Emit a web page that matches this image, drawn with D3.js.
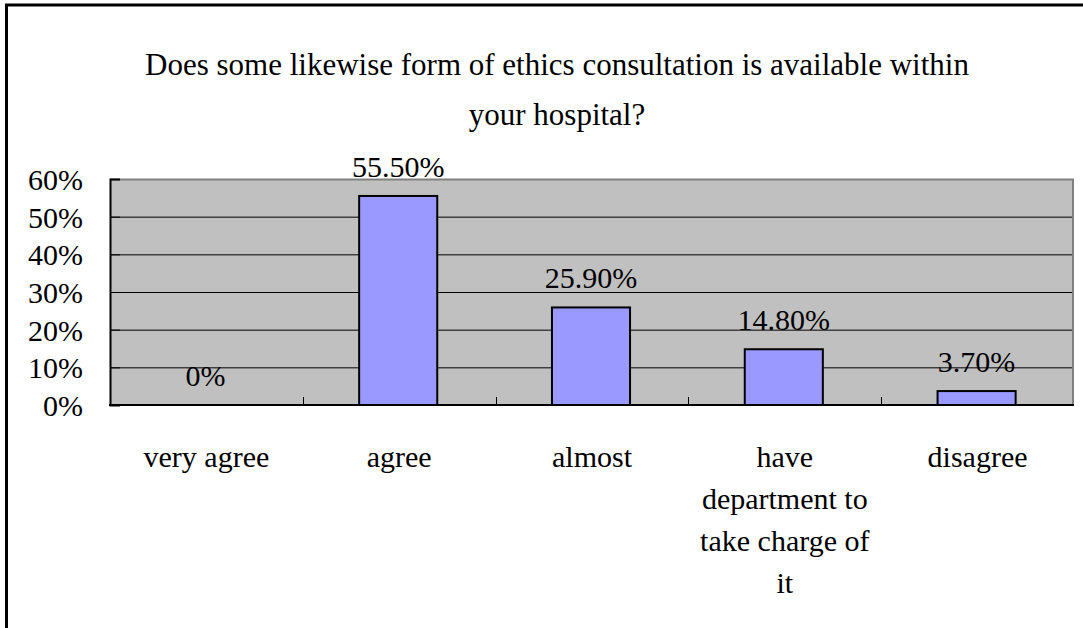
<!DOCTYPE html>
<html>
<head>
<meta charset="utf-8">
<script src="https://cdn.jsdelivr.net/npm/d3@7"></script>
<style>
  body { margin: 0; background: #fff; }
  text { font-family: "Liberation Serif", "Times New Roman", "DejaVu Serif", serif; fill: #000; }
</style>
</head>
<body>
<script>
var width = 1083;
var height = 628;
var margin = {top: 179, right: 9, bottom: 223, left: 110};
var w = width - margin.left - margin.right;
var h = height - margin.top - margin.bottom;

var titleLines = ["Does some likewise form of ethics consultation is available within", "your hospital?"];
var categories = ["very agree", "agree", "almost", "have department to take charge of it", "disagree"];
var percents = [0, 55.5, 25.9, 14.8, 3.7];
var valueLabels = ["0%", "55.50%", "25.90%", "14.80%", "3.70%"];
var yTicks = [0, 10, 20, 30, 40, 50, 60];

var svg = d3.select("body").append("svg")
  .attr("width", width)
  .attr("height", height);

// outer chart frame, runs off the right and bottom like the original
svg.append("rect")
  .attr("x", 6.5).attr("y", 5)
  .attr("width", 1200).attr("height", 800)
  .attr("fill", "none")
  .attr("stroke", "#000")
  .attr("stroke-width", 3);

svg.selectAll(".title")
  .data(titleLines)
  .enter()
  .append("text")
  .attr("class", "title")
  .attr("x", 557)
  .attr("y", function(d, i) { return 75 + i * 50; })
  .attr("text-anchor", "middle")
  .style("font-size", "31px")
  .text(function(d) { return d; });

var g = svg.append("g")
  .attr("transform", "translate(" + margin.left + "," + margin.top + ")");

var x = d3.scaleBand()
  .domain(categories)
  .range([0, w]);

var y = d3.scaleLinear()
  .domain([0, 60])
  .range([h, 0]);

g.append("rect")
  .attr("width", w)
  .attr("height", h)
  .attr("fill", "#c0c0c0");

// gridlines
g.selectAll(".grid")
  .data(yTicks.slice(1))
  .enter()
  .append("line")
  .attr("class", "grid")
  .attr("x1", 0).attr("x2", w)
  .attr("y1", function(d) { return y(d) + 0.5; })
  .attr("y2", function(d) { return y(d) + 0.5; })
  .attr("stroke", "#000")
  .attr("stroke-width", 1);

// plot border top/right in grey
g.append("path")
  .attr("d", "M0,0.5H" + (w - 1) + "V" + h)
  .attr("fill", "none")
  .attr("stroke", "#808080")
  .attr("stroke-width", 2);

var barW = x.bandwidth() * 0.405;

g.selectAll(".bar")
  .data(percents)
  .enter()
  .append("rect")
  .attr("class", "bar")
  .attr("x", function(d, i) { return x(categories[i]) + x.bandwidth() / 2 - barW / 2 - 1; })
  .attr("width", barW)
  .attr("y", function(d) { return y(d); })
  .attr("height", function(d) { return h - y(d); })
  .attr("fill", "#9999ff")
  .attr("stroke", "#000")
  .attr("stroke-width", function(d) { return d > 0 ? 2 : 0; });

g.selectAll(".val")
  .data(percents)
  .enter()
  .append("text")
  .attr("class", "val")
  .attr("x", function(d, i) { return x(categories[i]) + x.bandwidth() / 2 - 1; })
  .attr("y", function(d) { return y(d) - 19; })
  .attr("text-anchor", "middle")
  .style("font-size", "30px")
  .text(function(d, i) { return valueLabels[i]; });

// y axis
var yAxis = g.append("g")
  .call(d3.axisLeft(y).tickValues(yTicks).tickFormat(function(d) { return d + "%"; }).tickSize(-10).tickPadding(27));
yAxis.select(".domain").attr("stroke", "#000").attr("stroke-width", 2);
yAxis.selectAll(".tick line").attr("stroke", "#000");
yAxis.selectAll("text")
  .style("font-size", "30px")
  .attr("font-family", null)
  .attr("x", -27)
  .attr("dy", "0.35em");

// x axis: ticks between categories, pointing into the plot
var bounds = categories.map(function(c) { return x(c); }).slice(1);
g.selectAll(".xtick")
  .data(bounds)
  .enter()
  .append("line")
  .attr("class", "xtick")
  .attr("x1", function(d) { return Math.round(d) + 0.5; })
  .attr("x2", function(d) { return Math.round(d) + 0.5; })
  .attr("y1", h - 8).attr("y2", h)
  .attr("stroke", "#000");

g.append("line")
  .attr("x1", -1).attr("x2", w)
  .attr("y1", h).attr("y2", h)
  .attr("stroke", "#000")
  .attr("stroke-width", 2);

var labels = g.selectAll(".cat")
  .data(categories)
  .enter()
  .append("text")
  .attr("class", "cat")
  .attr("x", function(d) { return x(d) + x.bandwidth() / 2; })
  .attr("y", h + 62)
  .attr("text-anchor", "middle")
  .style("font-size", "30px")
  .text(function(d) { return d; });

labels.call(wrap, 182);

function wrap(sel, maxW) {
  sel.each(function() {
    var t = d3.select(this);
    var words = t.text().split(" ");
    var cx = t.attr("x");
    var line = [];
    t.text(null);
    var span = t.append("tspan").attr("x", cx);
    words.forEach(function(wd) {
      line.push(wd);
      span.text(line.join(" "));
      if (span.node().getComputedTextLength() > maxW && line.length > 1) {
        line.pop();
        span.text(line.join(" "));
        line = [wd];
        span = t.append("tspan").attr("x", cx).attr("dy", 42).text(wd);
      }
    });
  });
}
</script>
</body>
</html>
